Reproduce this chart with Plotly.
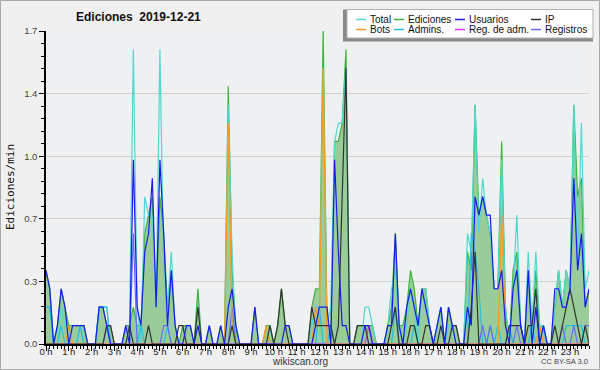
import numpy as np
import plotly.graph_objects as go

# ---- data: edits per minute, 10-minute bins (144 bins, 00:00 .. 23:50) ----
hour_labels = [f"{h} h" for h in range(24)]

ediciones = [
    0.4,0.3,0,0.1,0.3,0.2, 0.1,0.1,0.1,0.1,0.1,0,
    0,0,0.2,0.2,0.1,0.1, 0,0,0,0.1,0.1,0.2,
    0.1,0.1,0.6,0.7,0.8,0.2, 0.8,0.6,0.2,0.4,0.1,0,
    0.1,0.1,0.1,0,0.3,0, 0,0.1,0,0,0.1,0,
    1.4,0.4,0.1,0,0,0, 0,0.2,0,0,0.1,0.1,
    0,0.1,0.3,0.1,0.1,0, 0,0,0,0,0.2,0.3,
    0.3,1.7,0.1,0.1,1.1,1.1, 1.2,1.6,0,0,0.1,0.1,
    0.1,0.1,0.1,0,0,0, 0.1,0.2,0.6,0.1,0.1,0.2,
    0.4,0.3,0.1,0.3,0.3,0.1, 0,0.1,0.2,0,0.2,0.1,
    0.1,0,0,0.5,0.4,1.3, 0.7,0.8,0.7,0.6,0.3,0.3,
    1.1,0.2,0,0.4,0.5,0.1, 0,0.4,0.1,0.4,0.1,0.1,
    0,0,0.2,0.4,0.2,0.4, 0.3,1.3,0.8,0.9,0.2,0.3,
]
total = [
    0.2,0.2,0,0,0.2,0.1, 0,0,0,0.1,0,0,
    0,0,0.2,0.2,0.2,0, 0,0,0,0,0.1,1.6,
    0.2,0,0.8,0.7,0.7,0.2, 1.6,0.4,0.2,0.5,0.1,0,
    0,0,0,0,0,0, 0,0,0,0,0,0,
    1.3,0.5,0,0,0,0, 0,0,0,0,0,0,
    0,0,0,0,0,0, 0,0,0,0,0.1,0.2,
    0.2,1.5,0.1,0.2,1.1,1.2, 1.2,1.5,0,0,0,0,
    0.2,0.2,0.1,0,0,0, 0.1,0.3,0.4,0.1,0,0.1,
    0.3,0.2,0,0.3,0.3,0.1, 0,0.1,0.2,0,0.1,0.1,
    0,0,0,0.6,0.5,1.3, 0.6,0.9,0.7,0.6,0.3,0.3,
    1.0,0.2,0,0.3,0.7,0.1, 0,0.5,0.1,0.5,0.1,0.1,
    0,0,0.2,0.4,0.2,0.4, 0.3,1.3,0.4,1.2,0.3,0.4,
]
usuarios = [
    0.4,0.3,0,0.1,0.3,0.2, 0,0.1,0.1,0.1,0.1,0,
    0,0,0.2,0.2,0.1,0, 0,0,0,0.1,0,1.0,
    0.2,0.1,0.5,0.6,0.9,0.2, 1.0,0.6,0.1,0.4,0.1,0,
    0,0.1,0.1,0,0.1,0, 0,0.1,0,0,0.1,0,
    0.2,0.3,0.1,0,0,0, 0,0.2,0,0,0,0,
    0,0,0,0.1,0.1,0, 0,0,0,0,0,0.1,
    0.2,0.2,0.2,0,1.0,0.5, 0.1,0.1,0,0,0,0,
    0.1,0.1,0,0,0,0, 0.1,0.1,0.6,0.1,0,0.2,
    0.3,0.2,0.1,0.3,0.2,0.1, 0,0.1,0.2,0,0.2,0.1,
    0,0,0,0.2,0.1,0.8, 0.7,0.8,0.7,0.7,0.3,0.3,
    0.4,0.1,0,0.3,0.4,0.1, 0,0.4,0,0.2,0,0.1,
    0,0,0.3,0.3,0.2,0.2, 0.3,0.9,0.4,0.6,0.2,0.3,
]
ip = [
    0,0,0,0,0,0, 0,0,0,0,0,0,
    0,0,0,0,0.1,0.1, 0,0,0,0,0.1,0,
    0,0,0,0.1,0,0, 0,0,0,0,0,0.1,
    0.1,0,0,0,0.2,0, 0,0,0,0,0,0,
    0,0.1,0,0,0,0, 0,0,0,0,0,0.1,
    0,0.1,0.3,0.1,0,0, 0,0,0,0,0.2,0.1,
    0.1,0.1,0.1,0.1,0,0.1, 0.8,1.5,0,0,0.1,0.1,
    0.1,0,0,0,0,0, 0,0.1,0.2,0,0,0,
    0.1,0.1,0,0,0.1,0.1, 0,0,0.1,0,0,0.1,
    0.1,0,0,0,0.2,0.5, 0,0,0,0,0,0,
    0,0,0.1,0.1,0.1,0.1, 0,0.1,0.1,0.3,0,0,
    0,0,0.1,0,0.1,0.2, 0.3,0.2,0.1,0,0.1,0,
]
bots = [0.0] * 144
for i, v in {6: 0.1, 48: 1.2, 49: 0.1, 58: 0.1, 71: 0.2, 72: 0.1, 73: 1.5,
             120: 0.7, 121: 0.1, 130: 0.1}.items():
    bots[i] = v
admins = [0.0] * 144
for i, v in {0: 0.2, 1: 0.2, 4: 0.1, 9: 0.1, 14: 0.2, 15: 0.2, 16: 0.2, 25: 0.1,
             32: 0.1, 72: 0.2, 75: 0.1, 92: 0.2, 97: 0.1, 112: 0.6, 113: 0.5,
             114: 0.3, 117: 0.1, 119: 0.1, 122: 0.1, 128: 0.1, 131: 0.1,
             137: 0.1, 138: 0.1, 139: 0.1, 140: 0.1, 141: 0.1}.items():
    admins[i] = v
reg_adm = [0.0] * 144
for i, v in {85: 0.1}.items():
    reg_adm[i] = v
registros = [0.0] * 144
for i, v in {16: 0.1, 23: 0.6, 31: 0.1, 32: 0.1, 49: 0.2, 115: 0.1, 117: 0.1,
             124: 0.1, 136: 0.1, 139: 0.1, 142: 0.1, 143: 0.1}.items():
    registros[i] = v

y_tickvals = [0, 0.34, 0.68, 1.02, 1.36, 1.7]
y_ticktext = ["0.0", "0.3", "0.7", "1.0", "1.4", "1.7"]

# ---- figure ----
x = np.arange(len(ediciones)) / 6.0

C_TOTAL = "#4fd8d0"
C_EDIC = "#3cb43c"
C_FILL = "#99cc99"
C_USU = "#1a1aee"
C_IP = "#333333"
C_BOTS = "#ff9a1a"
C_ADM = "#22c0e6"
C_REGADM = "#dd33ee"
C_REG = "#6a6aff"

fig = go.Figure()
fig.add_trace(go.Scatter(x=x, y=ediciones, name="Ediciones", mode="lines",
                         line=dict(color=C_EDIC, width=1.2), fill="tozeroy",
                         fillcolor=C_FILL))
series = [
    ("Total", total, C_TOTAL),
    ("Admins.", admins, C_ADM),
    ("Registros", registros, C_REG),
    ("Reg. de adm.", reg_adm, C_REGADM),
    ("Bots", bots, C_BOTS),
    ("IP", ip, C_IP),
    ("Usuarios", usuarios, C_USU),
]
for name, ys, col in series:
    fig.add_trace(go.Scatter(x=x, y=ys, name=name, mode="lines",
                             line=dict(color=col, width=1.2)))

L, R, T, B = 46, 11, 31, 26
PW, PH = 600 - L - R, 370 - T - B


def px(xp):
    return (xp - L) / PW


def py(yp):
    return (370 - B - yp) / PH


LEG_FONT = dict(family="Liberation Sans", size=10, color="#111111")

shapes = [
    # outer border of image
    dict(type="rect", xref="paper", yref="paper", x0=px(0.5), x1=px(599.5),
         y0=py(369.5), y1=py(0.5), line=dict(color="#a8a8a8", width=1),
         layer="below"),
    # legend box (shadow + white box)
    dict(type="rect", xref="paper", yref="paper", x0=px(343), x1=px(593),
         y0=py(41.5), y1=py(9.5), fillcolor="#8a8a8a", line=dict(width=0)),
    dict(type="rect", xref="paper", yref="paper", x0=px(347), x1=px(593),
         y0=py(38), y1=py(9.5), fillcolor="#ffffff",
         line=dict(color="#b0b0b0", width=1)),
]
annotations = []
legend_items = [
    ("Total", C_TOTAL, 356, 19.5), ("Ediciones", C_EDIC, 394, 19.5),
    ("Usuarios", C_USU, 455, 19.5), ("IP", C_IP, 531, 19.5),
    ("Bots", C_BOTS, 356, 29.5), ("Admins.", C_ADM, 394, 29.5),
    ("Reg. de adm.", C_REGADM, 455, 29.5), ("Registros", C_REG, 531, 29.5),
]
for name, col, lx, ly in legend_items:
    shapes.append(dict(type="line", xref="paper", yref="paper", x0=px(lx),
                       x1=px(lx + 10), y0=py(ly), y1=py(ly),
                       line=dict(color=col, width=1.5)))
    annotations.append(dict(text=name, xref="paper", yref="paper",
                            x=px(lx + 12), y=py(ly), xanchor="left",
                            yanchor="middle", showarrow=False,
                            font=LEG_FONT))

annotations += [
    dict(text="<b>Ediciones  2019-12-21</b>", xref="paper", yref="paper",
         x=px(74), y=py(17), xanchor="left", yanchor="middle",
         showarrow=False,
         font=dict(family="Liberation Sans", size=12, color="#111111")),
    dict(text="Ediciones/min", xref="paper", yref="paper", x=px(10),
         y=py(187), xanchor="center", yanchor="middle", textangle=-90,
         showarrow=False,
         font=dict(family="DejaVu Sans Mono", size=11, color="#111111")),
    dict(text="wikiscan.org", xref="paper", yref="paper", x=px(300),
         y=py(361), xanchor="center", yanchor="middle", showarrow=False,
         font=dict(family="Liberation Sans", size=10, color="#333333")),
    dict(text="CC BY-SA 3.0", xref="paper", yref="paper", x=px(590),
         y=py(361), xanchor="right", yanchor="middle", showarrow=False,
         font=dict(family="Liberation Sans", size=7.5, color="#444444")),
]

fig.update_layout(
    width=600, height=370,
    margin=dict(l=L, r=R, t=T, b=B, pad=0, autoexpand=False),
    paper_bgcolor="#f0f0f0", plot_bgcolor="#eef0f2",
    showlegend=False,
    shapes=shapes, annotations=annotations,
    font=dict(family="Liberation Sans", size=9, color="#333333"),
)
fig.update_xaxes(
    range=[0, x[-1]], tickmode="array", tickvals=list(range(24)),
    ticktext=hour_labels, tickangle=0, automargin=False,
    ticks="outside", ticklen=5, tickwidth=1, ticklabelstandoff=-7,
    tickcolor="#000000", showline=True, linecolor="#000000", linewidth=1.5,
    showgrid=False, zeroline=False,
    tickfont=dict(family="Liberation Sans", size=9.5, color="#222222"),
    minor=dict(dtick=1 / 6, tick0=0, ticks="outside", ticklen=3,
               tickcolor="#000000", showgrid=False),
)
fig.update_yaxes(
    range=[0, 1.7], tickmode="array", tickvals=y_tickvals,
    ticktext=y_ticktext, ticks="outside", ticklen=5, tickwidth=1,
    automargin=False,
    tickcolor="#000000", showline=True, linecolor="#000000", linewidth=1.5,
    showgrid=True, gridcolor="#cfcfcf", gridwidth=1, zeroline=False,
    tickfont=dict(family="Liberation Sans", size=9.5, color="#444444"),
    minor=dict(dtick=0.068, tick0=0, ticks="outside", ticklen=3,
               tickcolor="#000000", showgrid=False),
)

fig.write_html(
    "out.html",
    config={"displayModeBar": False},
    post_script="document.body.style.margin='0';document.body.style.overflow='hidden';",
)
